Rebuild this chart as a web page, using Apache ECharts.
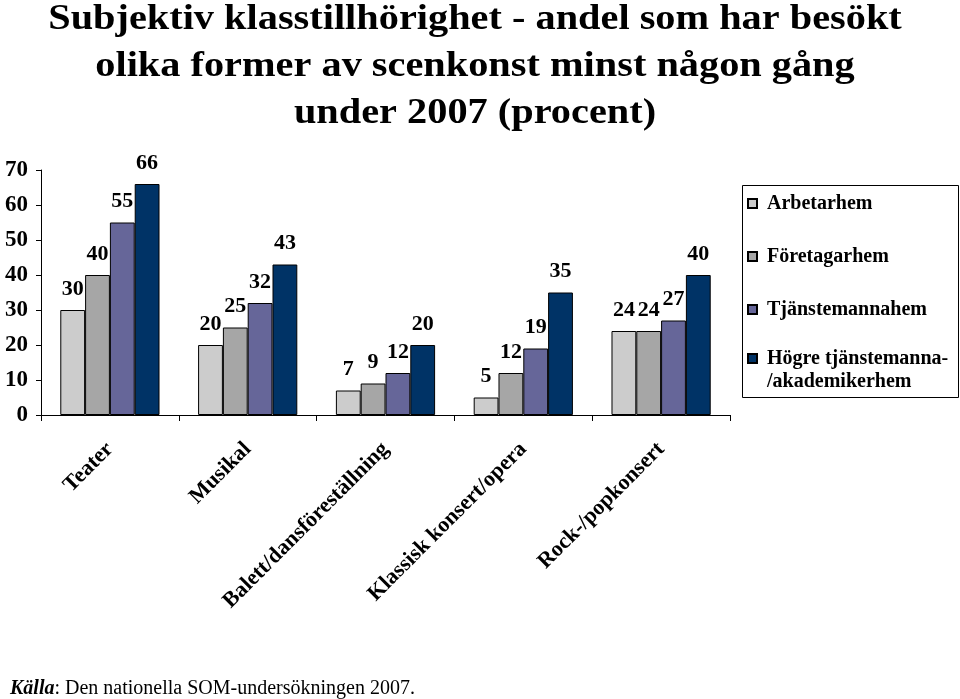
<!DOCTYPE html>
<html>
<head>
<meta charset="utf-8">
<script src="https://cdn.jsdelivr.net/npm/echarts@6/dist/echarts.min.js"></script>
<style>html,body{margin:0;padding:0;background:#fff}#c{width:960px;height:699px}</style>
</head>
<body>
<div id="c"></div>
<script>
var categories = ['Teater', 'Musikal', 'Balett/dansföreställning', 'Klassisk konsert/opera', 'Rock-/popkonsert'];
var arbetarhem = [30, 20, 7, 5, 24];
var foretagarhem = [40, 25, 9, 12, 24];
var tjanstemannahem = [55, 32, 12, 19, 27];
var hogre = [66, 43, 20, 35, 40];
var seriesNames = ['Arbetarhem', 'Företagarhem', 'Tjänstemannahem', 'Högre tjänstemanna-/akademikerhem'];
var yTicks = [0, 10, 20, 30, 40, 50, 60, 70];

var FONT = "'Liberation Serif', 'Times New Roman', serif";
var colors = ['#CCCCCC', '#A6A6A6', '#666699', '#003366'];
var values = [arbetarhem, foretagarhem, tjanstemannahem, hogre];

var chart = echarts.init(document.getElementById('c'));
var series = values.map(function (v, i) {
  return {
    type: 'bar',
    name: seriesNames[i],
    data: v,
    barGap: '0%',
    barCategoryGap: '28%',
    itemStyle: { color: colors[i], borderColor: '#000', borderWidth: 1 },
    label: {
      show: true, position: 'top', distance: 10,
      fontFamily: FONT, fontWeight: 'bold', fontSize: 22, color: '#000'
    },
    emphasis: { disabled: true }
  };
});

chart.setOption({
  animation: false,
  backgroundColor: '#fff',
  grid: { left: 41, right: 230, top: 170, bottom: 284, containLabel: false },
  xAxis: {
    type: 'category',
    data: categories,
    axisLine: { lineStyle: { color: '#000', width: 1 } },
    axisTick: { show: true, length: 6, lineStyle: { color: '#000' } },
    axisLabel: {
      rotate: 45, margin: 31, interval: 0,
      fontFamily: FONT, fontWeight: 'bold', fontSize: 22, color: '#000'
    }
  },
  yAxis: {
    type: 'value',
    min: yTicks[0], max: yTicks[yTicks.length - 1], interval: 10,
    axisLine: { show: true, lineStyle: { color: '#000', width: 1 } },
    axisTick: { show: true, length: 5, lineStyle: { color: '#000' } },
    splitLine: { show: false },
    axisLabel: { margin: 13, fontFamily: FONT, fontWeight: 'bold', fontSize: 23, color: '#000' }
  },
  legend: [
    {
      orient: 'vertical', left: 747, top: 192, padding: 0, itemGap: 30,
      itemWidth: 9, itemHeight: 9, icon: 'rect',
      data: seriesNames.slice(0, 3),
      textStyle: { fontFamily: FONT, fontWeight: 'bold', fontSize: 20, lineHeight: 23, color: '#000', padding: [0, 0, 0, 5] },
      selectedMode: false
    },
    {
      orient: 'vertical', left: 747, top: 324, padding: 0,
      itemWidth: 9, itemHeight: 9, icon: 'rect',
      data: [seriesNames[3]],
      formatter: function (n) { return ' \n' + n.replace('-/', '-\n/'); },
      textStyle: { fontFamily: FONT, fontWeight: 'bold', fontSize: 20, lineHeight: 23, color: '#000', padding: [0, 0, 0, 5] },
      selectedMode: false
    }
  ],
  graphic: [
    {
      type: 'rect', z: -1,
      shape: { x: 742.5, y: 185.5, width: 216, height: 212 },
      style: { fill: '#fff', stroke: '#000', lineWidth: 1 }
    },
    {
      type: 'text', x: 475, y: -4, scaleX: 1.12,
      style: {
        text: 'Subjektiv klasstillhörighet - andel som har besökt\nolika former av scenkonst minst någon gång\nunder 2007 (procent)',
        fontFamily: FONT, fontWeight: 'bold', fontSize: 36, lineHeight: 47,
        fill: '#000', align: 'center', verticalAlign: 'top'
      }
    },
    {
      type: 'text', x: 10, y: 689,
      style: {
        text: '{b|Källa}: Den nationella SOM-undersökningen 2007.',
        fontFamily: FONT, fontSize: 20, fill: '#000', verticalAlign: 'middle', align: 'left',
        rich: { b: { fontFamily: FONT, fontSize: 20, fontWeight: 'bold', fontStyle: 'italic', fill: '#000' } }
      }
    }
  ],
  series: series
});
</script>
</body>
</html>
